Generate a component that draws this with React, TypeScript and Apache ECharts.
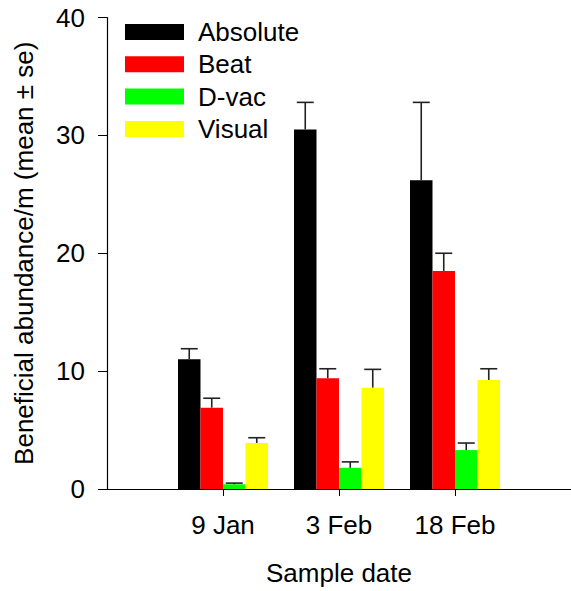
import React, { useEffect, useRef } from "react";
import * as echarts from "echarts";

// Sample dates and their positions on the date axis
const categories = ["9 Jan", "3 Feb", "18 Feb"];
const positions = [1, 2, 3];

// Sampling methods
const methodNames = ["Absolute", "Beat", "D-vac", "Visual"];
const methodColors = ["#000000", "#ff0000", "#00ff00", "#ffff00"];

// Mean abundance per metre
const absoluteMean = [11.0, 30.5, 26.2];
const beatMean = [6.9, 9.4, 18.5];
const dvacMean = [0.4, 1.8, 3.3];
const visualMean = [3.9, 8.6, 9.25];

// Standard errors
const absoluteSe = [0.9, 2.3, 6.6];
const beatSe = [0.8, 0.8, 1.5];
const dvacSe = [0.1, 0.5, 0.6];
const visualSe = [0.45, 1.55, 0.95];

const yTicks = [0, 10, 20, 30, 40];

const FONT = "'Liberation Sans', Arial, Helvetica, sans-serif";
const BAR_WIDTH = 22.5;

export default function App() {
  const ref = useRef<HTMLDivElement>(null);

  useEffect(() => {
    if (!ref.current) return;
    const chart = echarts.init(ref.current, undefined, { renderer: "svg" });

    const means = [absoluteMean, beatMean, dvacMean, visualMean];
    const ses = [absoluteSe, beatSe, dvacSe, visualSe];

    const barSeries = methodNames.map((name, k) => ({
      name,
      type: "bar",
      barWidth: BAR_WIDTH,
      barGap: "0%",
      itemStyle: { color: methodColors[k] },
      data: positions.map((p, i) => [p, means[k][i]]),
      z: 2,
    }));

    // error bars: [position, method index, mean, se]
    const errData: number[][] = [];
    means.forEach((m, k) => {
      m.forEach((v, i) => errData.push([positions[i], k, v, ses[k][i]]));
    });

    const errorSeries = {
      type: "custom",
      name: "error",
      z: 3,
      encode: { x: 0, y: 2 },
      data: errData,
      renderItem: (params: any, api: any) => {
        const x = api.value(0);
        const k = api.value(1);
        const mean = api.value(2);
        const se = api.value(3);
        const base = api.coord([x, mean]);
        const top = api.coord([x, mean + se]);
        const dx = (k - 1.5) * BAR_WIDTH;
        const cx = base[0] + dx;
        const half = 8.5;
        const style = { stroke: "#222", lineWidth: 1.6 };
        return {
          type: "group",
          children: [
            { type: "line", shape: { x1: cx, y1: base[1], x2: cx, y2: top[1] }, style },
            { type: "line", shape: { x1: cx - half, y1: top[1], x2: cx + half, y2: top[1] }, style },
          ],
        };
      },
    };

    chart.setOption({
      animation: false,
      backgroundColor: "#ffffff",
      textStyle: { fontFamily: FONT },
      grid: { left: 107, right: -6.5, top: 17.5, bottom: 102, containLabel: false },
      legend: {
        data: methodNames,
        orient: "vertical",
        left: 125,
        top: 19,
        padding: 0,
        itemWidth: 59,
        itemHeight: 16,
        itemGap: 6.3,
        icon: "rect",
        textStyle: { fontSize: 26, color: "#000", fontFamily: FONT, lineHeight: 26, padding: [0, 0, 0, 9] },
      },
      xAxis: {
        type: "value",
        min: 0,
        max: 4,
        name: "Sample date",
        nameLocation: "middle",
        nameGap: 71,
        nameTextStyle: { fontSize: 26, color: "#000", fontFamily: FONT, lineHeight: 26 },
        splitLine: { show: false },
        axisLine: { show: true, lineStyle: { color: "#000", width: 1.2 } },
        axisTick: { show: true, length: 7, customValues: positions, lineStyle: { color: "#000" } },
        axisLabel: {
          customValues: positions,
          margin: 22.6,
          fontSize: 26,
          color: "#000",
          fontFamily: FONT,
          formatter: (v: number) => {
            const i = positions.indexOf(Math.round(v));
            return i >= 0 ? categories[i] : "";
          },
        },
      },
      yAxis: {
        type: "value",
        min: yTicks[0],
        max: yTicks[yTicks.length - 1],
        interval: 10,
        name: "Beneficial abundance/m (mean ± se)",
        nameLocation: "middle",
        nameGap: 70,
        nameTextStyle: { fontSize: 26, color: "#000", fontFamily: FONT, lineHeight: 26 },
        splitLine: { show: false },
        axisLine: { show: true, lineStyle: { color: "#000", width: 1.2 } },
        axisTick: { show: true, length: 9, lineStyle: { color: "#000" } },
        axisLabel: { margin: 22, fontSize: 26, color: "#000", fontFamily: FONT },
      },
      series: [...barSeries, errorSeries],
    });

    return () => chart.dispose();
  }, []);

  return (
    <div
      ref={ref}
      style={{ position: "fixed", left: 0, top: 0, width: 571, height: 591, background: "#fff" }}
    />
  );
}
